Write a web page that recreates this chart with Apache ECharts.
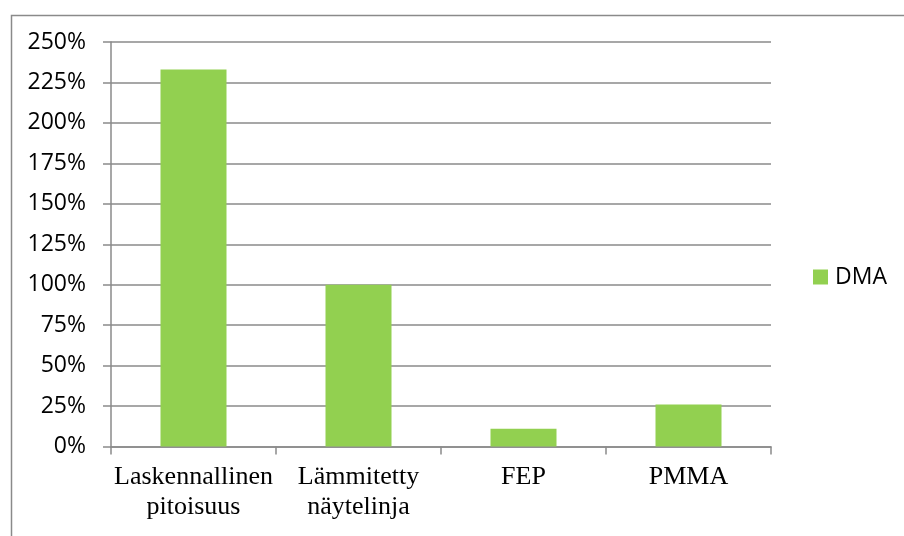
<!DOCTYPE html>
<html>
<head>
<meta charset="utf-8">
<script src="https://cdn.jsdelivr.net/npm/echarts@6/dist/echarts.min.js"></script>
<style>
  html, body { margin: 0; padding: 0; background: #ffffff; }
  #chart { width: 904px; height: 536px; }
</style>
</head>
<body>
<div id="chart"></div>
<script>
// Categories (spaces become line breaks in the axis labels)
const categories = ['Laskennallinen pitoisuus', 'Lämmitetty näytelinja', 'FEP', 'PMMA'];
// DMA share, in percent
const dmaValues = [233, 100, 11, 26];
const seriesName = 'DMA';
// Value axis range and step, in percent
const yMin = 0;
const yMax = 250;
const yStep = 25;

const gray = '#8a8a8a';
const serif = 'Liberation Serif';
const sans = 'Open Sans';
const chart = echarts.init(document.getElementById('chart'), null, { renderer: 'canvas' });

chart.setOption({
  backgroundColor: '#ffffff',
  animation: false,
  textStyle: { fontFamily: serif, fontSize: 26, color: '#000000' },
  graphic: [{
    type: 'rect',
    left: 9, top: 13,
    shape: { x: 0, y: 0, width: 1000, height: 600 },
    style: { fill: 'none', stroke: gray, lineWidth: 1.5 },
    silent: true
  }],
  grid: { left: 111, right: 133, top: 42, bottom: 89.5, containLabel: false },
  legend: {
    data: [seriesName],
    left: 813, top: 265,
    orient: 'vertical',
    icon: 'rect',
    itemWidth: 15, itemHeight: 15, itemGap: 10,
    textStyle: { fontFamily: sans, fontSize: 23, color: '#000000', lineHeight: 24, padding: [0, 0, 0, 2] },
    padding: 0
  },
  xAxis: {
    type: 'category',
    data: categories,
    axisLine: { show: true, lineStyle: { color: gray, width: 1.5 } },
    axisTick: { show: true, length: 8, lineStyle: { color: gray, width: 1.5 } },
    axisLabel: {
      interval: 0,
      margin: 16,
      fontFamily: serif,
      fontSize: 26,
      lineHeight: 30,
      color: '#000000',
      formatter: v => v.split(' ').join('\n')
    },
    splitLine: { show: false }
  },
  yAxis: {
    type: 'value',
    min: yMin, max: yMax, interval: yStep,
    axisLine: { show: true, lineStyle: { color: gray, width: 1.5 } },
    axisTick: { show: true, length: 8, lineStyle: { color: gray, width: 1.5 } },
    axisLabel: {
      margin: 25,
      fontFamily: sans,
      fontSize: 23,
      color: '#000000',
      formatter: '{value}%'
    },
    splitLine: { show: true, lineStyle: { color: gray, width: 1.5 } }
  },
  series: [{
    name: seriesName,
    type: 'bar',
    data: dmaValues,
    barCategoryGap: '60%',
    itemStyle: { color: '#92D050' }
  }]
});
</script>
</body>
</html>
